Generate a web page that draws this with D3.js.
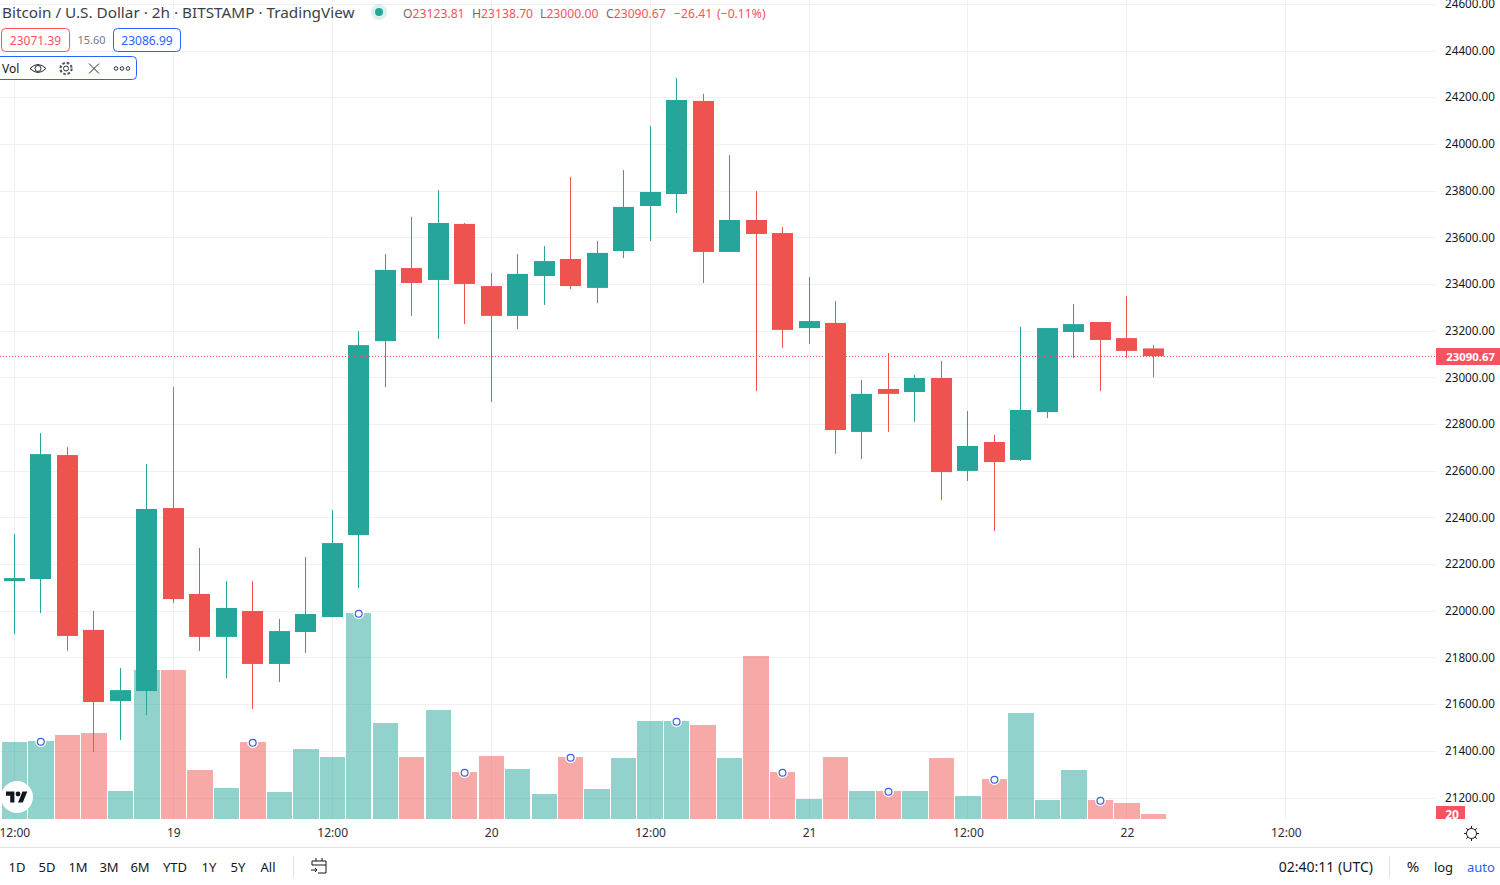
<!DOCTYPE html>
<html>
<head>
<meta charset="utf-8">
<script src="https://cdn.jsdelivr.net/npm/d3@7"></script>
<style>
    html, body { margin: 0; padding: 0; background: #fff; overflow: hidden; }
    text { font-family: "Noto Sans", "Open Sans", sans-serif; }
</style>
</head>
<body>
<svg id="chart" width="1500" height="885"></svg>
<script>
// values, one 2h candle each, first one is Jul 18 12:00 UTC
var firstBar = "2022-07-18T12:00:00Z";
var opens = [22127, 22136, 22667, 21918, 21613, 21656, 22440, 22072, 21888, 21999, 21772, 21909, 21973, 22324, 23155, 23468, 23417, 23657, 23391, 23263, 23434, 23507, 23383, 23541, 23734, 23785, 24184, 23537, 23674, 23618, 23211, 23233, 22766, 22950, 22937, 22997, 22599, 22723, 22646, 22851, 23194, 23237, 23168, 23123.81];
var highs = [22329, 22761, 22701, 21999, 21755, 22629, 22958, 22269, 22127, 22127, 21965, 22230, 22432, 23198, 23528, 23687, 23802, 23661, 23447, 23528, 23562, 23858, 23584, 23888, 24077, 24282, 24214, 23952, 23798, 23644, 23430, 23327, 22989, 23104, 23010, 23070, 22856, 22753, 23216, 23211, 23314, 23237, 23348, 23138.70];
var lows = [21900, 21990, 21828, 21395, 21446, 21553, 22033, 21828, 21712, 21579, 21695, 21819, 21973, 22097, 22958, 23263, 23164, 23228, 22894, 23207, 23310, 23378, 23318, 23511, 23584, 23704, 23404, 23537, 22941, 23126, 23143, 22672, 22650, 22766, 22809, 22474, 22556, 22342, 22641, 22826, 23083, 22941, 23083, 23000];
var closes = [22140, 22671, 21892, 21609, 21660, 22436, 22050, 21888, 22012, 21772, 21913, 21986, 22290, 23138, 23460, 23404, 23661, 23400, 23263, 23443, 23498, 23391, 23533, 23730, 23794, 24188, 23537, 23674, 23614, 23203, 23241, 22774, 22929, 22929, 22997, 22594, 22706, 22637, 22860, 23211, 23228, 23160, 23113, 23090.67];
var volumes = [308, 312, 336, 344, 112, 596, 596, 196, 124, 308, 108, 280, 248, 824, 384, 248, 436, 188, 252, 200, 100, 248, 120, 244, 392, 392, 376, 244, 652, 188, 80, 248, 112, 112, 112, 244, 92, 160, 424, 76, 196, 76, 64, 20];
var markerBars = [1, 9, 13, 17, 21, 25, 29, 33, 37, 41];

var priceTicks = [24600, 24400, 24200, 24000, 23800, 23600, 23400, 23200, 23000, 22800, 22600, 22400, 22200, 22000, 21800, 21600, 21400, 21200];
var timeTicks = ["2022-07-18T12:00:00Z", "2022-07-19T00:00:00Z", "2022-07-19T12:00:00Z", "2022-07-20T00:00:00Z", "2022-07-20T12:00:00Z", "2022-07-21T00:00:00Z", "2022-07-21T12:00:00Z", "2022-07-22T00:00:00Z", "2022-07-22T12:00:00Z"];
var lastPrice = 23090.67;
var lastVolume = 20;

var ohlcLabels = ["O", "H", "L", "C"];
var ohlcValues = ["23123.81", "23138.70", "23000.00", "23090.67"];
var ohlcStarts = [403, 472, 540, 606];
var rangeLabels = ["1D", "5D", "1M", "3M", "6M", "YTD", "1Y", "5Y", "All"];
var rangeCenters = [17, 47, 78, 109, 140, 175, 209, 238, 268];

var upColor = "#26a69a", downColor = "#ef5350", tagRed = "#f7525f", blue = "#2962ff";
var gridColor = "#f0f1f3", textColor = "#131722";
var paneRight = 1436, paneBottom = 819;

var svg = d3.select("#chart");
var bars = opens.map(function(o, i) {
    return {
        date: d3.utcHour.offset(new Date(firstBar), i * 2),
        open: o, high: highs[i], low: lows[i], close: closes[i], volume: volumes[i]
    };
});
function barColor(d) { return d.close >= d.open ? upColor : downColor; }

// scales, the end points were measured on the reference
var x = d3.scaleUtc()
    .domain([new Date(firstBar), new Date(timeTicks[8])])
    .range([14.31, 1285.83]);
var y = d3.scaleLinear().domain([24400, 21200]).range([50.5, 797.5]);
var yVol = d3.scaleLinear().domain([0, 824]).range([paneBottom, 613]);

// grid
var grid = svg.append("g").attr("stroke", gridColor).attr("stroke-width", 1);
grid.selectAll("line.h").data(priceTicks).enter().append("line")
    .attr("class", "h")
    .attr("x1", 0).attr("x2", paneRight)
    .attr("y1", function(d) { return Math.round(y(d)) + 0.5; })
    .attr("y2", function(d) { return Math.round(y(d)) + 0.5; });
grid.selectAll("line.v").data(timeTicks).enter().append("line")
    .attr("class", "v")
    .attr("y1", 0).attr("y2", paneBottom)
    .attr("x1", function(d) { return Math.floor(x(new Date(d))) + 0.5; })
    .attr("x2", function(d) { return Math.floor(x(new Date(d))) + 0.5; });

// volume
svg.append("g").attr("shape-rendering", "crispEdges").selectAll("rect").data(bars).enter().append("rect")
    .attr("x", function(d) { return x(d.date) - 12.6; })
    .attr("width", 25.4)
    .attr("y", function(d) { return yVol(d.volume); })
    .attr("height", function(d) { return paneBottom - yVol(d.volume); })
    .attr("fill", barColor)
    .attr("fill-opacity", 0.5);

// candles
var candles = svg.append("g").selectAll("g").data(bars).enter().append("g");
candles.append("rect")
    .attr("x", function(d) { return Math.floor(x(d.date)); })
    .attr("width", 1)
    .attr("y", function(d) { return y(d.high); })
    .attr("height", function(d) { return y(d.low) - y(d.high); })
    .attr("fill", barColor);
candles.append("rect")
    .attr("x", function(d) { return Math.floor(x(d.date)) - 10; })
    .attr("width", 21)
    .attr("y", function(d) { return y(Math.max(d.open, d.close)); })
    .attr("height", function(d) { return Math.max(Math.abs(y(d.open) - y(d.close)), 1); })
    .attr("fill", barColor);

// last price line
svg.append("line")
    .attr("x1", 0).attr("x2", paneRight)
    .attr("y1", Math.floor(y(lastPrice)) + 0.5).attr("y2", Math.floor(y(lastPrice)) + 0.5)
    .attr("stroke", tagRed)
    .attr("stroke-dasharray", "1 2");

// blue event markers on the volume bars
var markers = svg.append("g").selectAll("g").data(markerBars).enter().append("g")
    .attr("transform", function(i) {
        return "translate(" + x(bars[i].date) + "," + (yVol(bars[i].volume) + 0.7) + ")";
    });
markers.append("circle").attr("r", 5.5).attr("fill", "#fff").attr("fill-opacity", 0.9);
markers.append("circle").attr("r", 3.4).attr("fill", "#fff").attr("stroke", "#3d5fe8").attr("stroke-width", 1.2);

// price axis
var priceAxis = svg.append("g")
    .attr("transform", "translate(1495,0)")
    .call(d3.axisLeft(y).tickValues(priceTicks).tickSize(0).tickPadding(0).tickFormat(d3.format(".2f")));
priceAxis.select(".domain").remove();
priceAxis.selectAll("text").style("font-size", "11.7px").attr("fill", textColor);

// tags on the price axis
svg.append("rect").attr("x", paneRight).attr("width", 64).attr("y", 348).attr("height", 17).attr("fill", tagRed);
svg.append("text").attr("x", 1495).attr("y", y(lastPrice) + 4.5).attr("text-anchor", "end")
    .attr("fill", "#fff").style("font-size", "11.4px").style("font-weight", 700)
    .text(d3.format(".2f")(lastPrice));
svg.append("clipPath").attr("id", "volTag").append("rect")
    .attr("x", paneRight).attr("width", 29).attr("y", 806).attr("height", 13);
var volTag = svg.append("g").attr("clip-path", "url(#volTag)");
volTag.append("rect").attr("x", paneRight).attr("width", 29).attr("y", 806).attr("height", 13).attr("fill", tagRed);
volTag.append("text").attr("x", 1452).attr("y", 819).attr("text-anchor", "middle")
    .attr("fill", "#fff").style("font-size", "12px").style("font-weight", 700).text(lastVolume);

// time axis
var timeAxis = svg.append("g")
    .attr("transform", "translate(0,828)")
    .call(d3.axisBottom(x)
        .tickValues(timeTicks.map(function(d) { return new Date(d); }))
        .tickSize(0).tickPadding(0)
        .tickFormat(function(d) { return d.getUTCHours() === 0 ? d.getUTCDate() : d3.utcFormat("%H:%M")(d); }));
timeAxis.select(".domain").remove();
timeAxis.selectAll("text").style("font-size", "12px").attr("fill", "#2a2e39");

// header
svg.append("text").attr("x", 2).attr("y", 18).attr("fill", "#3c3f48").style("font-size", "15.3px")
    .text("Bitcoin / U.S. Dollar · 2h · BITSTAMP · TradingView");
svg.append("circle").attr("cx", 379).attr("cy", 12).attr("r", 8).attr("fill", upColor).attr("fill-opacity", 0.16);
svg.append("circle").attr("cx", 379).attr("cy", 12).attr("r", 4).attr("fill", upColor);

var ohlc = svg.append("g").style("font-size", "12.2px");
ohlcLabels.forEach(function(label, i) {
    var t = ohlc.append("text").attr("x", ohlcStarts[i]).attr("y", 18);
    t.append("tspan").attr("fill", "#6a6d78").text(label);
    t.append("tspan").attr("fill", tagRed).text(ohlcValues[i]);
});
ohlc.append("text").attr("x", 674).attr("y", 18).attr("fill", tagRed).text("−26.41");
ohlc.append("text").attr("x", 717).attr("y", 18).attr("fill", tagRed).text("(−0.11%)");

// sell / spread / buy boxes
svg.append("rect").attr("x", 1.5).attr("y", 28.5).attr("width", 68).attr("height", 23).attr("rx", 4)
    .attr("fill", "#fff").attr("stroke", tagRed);
svg.append("text").attr("x", 35.5).attr("y", 45).attr("text-anchor", "middle").attr("fill", tagRed)
    .style("font-size", "12px").text("23071.39");
svg.append("text").attr("x", 91.5).attr("y", 44).attr("text-anchor", "middle").attr("fill", "#787b86")
    .style("font-size", "11px").text("15.60");
svg.append("rect").attr("x", 113.5).attr("y", 28.5).attr("width", 67).attr("height", 23).attr("rx", 4)
    .attr("fill", "#fff").attr("stroke", blue);
svg.append("text").attr("x", 147).attr("y", 45).attr("text-anchor", "middle").attr("fill", blue)
    .style("font-size", "12px").text("23086.99");

// Vol legend with its icons
svg.append("rect").attr("x", -6).attr("y", 56.5).attr("width", 142.5).attr("height", 23).attr("rx", 4)
    .attr("fill", "#fff").attr("stroke", blue);
svg.append("text").attr("x", 2).attr("y", 73).attr("fill", textColor).style("font-size", "12px").text("Vol");
var icons = svg.append("g").attr("fill", "none").attr("stroke", "#2a2e39").attr("stroke-width", 1);
icons.append("path").attr("d", "M30 68.5 Q38 60.5 46 68.5 Q38 76.5 30 68.5 Z");
icons.append("circle").attr("cx", 38).attr("cy", 68.5).attr("r", 3);
icons.append("circle").attr("cx", 66).attr("cy", 68.5).attr("r", 2.5);
icons.append("circle").attr("cx", 66).attr("cy", 68.5).attr("r", 5.6).attr("stroke-width", 2.2).attr("stroke-dasharray", "2.6 1.8").attr("opacity", 0.8);
icons.append("path").attr("d", "M89 63.5 L99 73.5 M99 63.5 L89 73.5");
[116, 122, 128].forEach(function(cx) {
    icons.append("circle").attr("cx", cx).attr("cy", 68.5).attr("r", 1.8);
});

// TradingView badge
var badge = svg.append("g");
badge.append("circle").attr("cx", 17).attr("cy", 797).attr("r", 16).attr("fill", "#fff");
var logo = badge.append("g").attr("transform", "translate(6,789.2) scale(0.6)").attr("fill", "#131722");
logo.append("path").attr("d", "M14 22H7V11H0V4h14v18zM28 22h-8l7.5-18h8L28 22z");
logo.append("circle").attr("cx", 20).attr("cy", 8).attr("r", 4);

// settings sun next to the time axis
var sun = svg.append("g").attr("transform", "translate(1471.5,833.5)").attr("fill", "none").attr("stroke", textColor);
sun.append("circle").attr("r", 5);
d3.range(8).forEach(function(i) {
    var a = i * Math.PI / 4;
    sun.append("line").attr("x1", 5 * Math.cos(a)).attr("y1", 5 * Math.sin(a))
        .attr("x2", 7.5 * Math.cos(a)).attr("y2", 7.5 * Math.sin(a));
});

// bottom toolbar
svg.append("line").attr("x1", 0).attr("x2", 1500).attr("y1", 847.5).attr("y2", 847.5).attr("stroke", "#e0e3eb");
svg.append("g").selectAll("text").data(rangeLabels).enter().append("text")
    .attr("x", function(d, i) { return rangeCenters[i]; })
    .attr("y", 872).attr("text-anchor", "middle")
    .attr("fill", textColor).style("font-size", "13px")
    .text(function(d) { return d; });
svg.append("line").attr("x1", 293.5).attr("x2", 293.5).attr("y1", 856).attr("y2", 878).attr("stroke", "#e0e3eb");
svg.append("line").attr("x1", 1389.5).attr("x2", 1389.5).attr("y1", 856).attr("y2", 878).attr("stroke", "#e0e3eb");
svg.append("path").attr("fill", "none").attr("stroke", textColor)
    .attr("d", "M312 865V861H326V873H318M312 865H326M316 858V861M322 858V861M311 870H317M315 868L317 870L315 872");
svg.append("text").attr("x", 1373).attr("y", 872).attr("text-anchor", "end").attr("fill", textColor)
    .style("font-size", "14px").text("02:40:11 (UTC)");
svg.append("text").attr("x", 1413).attr("y", 872).attr("text-anchor", "middle").attr("fill", textColor)
    .style("font-size", "15px").text("%");
svg.append("text").attr("x", 1443.5).attr("y", 872).attr("text-anchor", "middle").attr("fill", textColor)
    .style("font-size", "13px").text("log");
svg.append("text").attr("x", 1481).attr("y", 872).attr("text-anchor", "middle").attr("fill", blue)
    .style("font-size", "13px").text("auto");
</script>
</body>
</html>
